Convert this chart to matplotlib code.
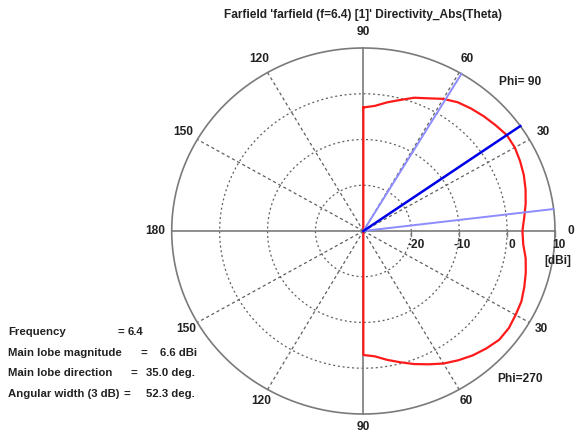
import numpy as np
import matplotlib
matplotlib.use("Agg")
import matplotlib.pyplot as plt

# Directivity cut (dBi) versus plot angle in degrees (0 = right, counter-clockwise)
theta_upper = [90, 85, 80, 75, 70, 65, 60, 55, 50, 45, 40, 35, 30, 25, 20, 15, 10, 5, 0]
db_upper = [-3.0, -2.55, -1.45, -0.35, 1.0, 2.0, 3.35, 4.35, 4.95, 5.5, 6.0, 6.55, 6.5,
            6.1, 5.65, 5.05, 4.4, 3.7, 3.2]
theta_lower = [-5, -10, -15, -20, -25, -30, -35, -40, -45, -50, -55, -60, -65, -70, -75,
               -80, -85, -90]
db_lower = [3.5, 4.4, 5.1, 5.75, 6.4, 6.7, 7.05, 7.0, 6.3, 5.5, 4.5, 3.45, 2.15, 0.95,
            -0.3, -1.4, -2.5, -2.9]

main_lobe_dir = 35.0
beam_edges = [59.2, 6.9]

r_min, r_max = -30, 10
ring_values = [-20, -10, 0]
ring_labels = ["-20", "-10", "0", "10"]
spoke_angles = [30, 60, 120, 150, -30, -60, -120, -150]
angle_pos_upper = [0, 30, 60, 90, 120, 150, 180]
angle_pos_lower = [-30, -60, -90, -120, -150]
angle_text_lower = ["30", "60", "90", "120", "150"]

title = "Farfield 'farfield (f=6.4) [1]' Directivity_Abs(Theta)"
info_labels = ["Frequency", "Main lobe magnitude", "Main lobe direction", "Angular width (3 dB)"]
info_values = ["6.4", "6.6 dBi", "35.0 deg.", "52.3 deg."]

W, H = 579, 432
fig = plt.figure(figsize=(W / 100, H / 100), dpi=100)
fig.patch.set_facecolor("white")

# Axes box: x spans 171.7..555 px, y spans 48..414 px
ax = fig.add_axes([171.7 / W, 18 / H, 383.3 / W, 366 / H])
R = r_max - r_min
ax.set_xlim(-R, R)
ax.set_ylim(-R, R)
ax.axis("off")

FONT = "Liberation Sans"
grey = "#7a7a7a"
dash = "#606060"


def pol(angle_deg, db):
    r = np.clip(np.asarray(db, float) - r_min, 0, None)
    a = np.deg2rad(np.asarray(angle_deg, float))
    return r * np.cos(a), r * np.sin(a)


# Dotted rings
t = np.linspace(0, 360, 721)
for v in ring_values:
    x, y = pol(t, np.full_like(t, v))
    ax.plot(x, y, color=dash, lw=0.9, ls=(0, (1.6, 2.2)), clip_on=False, zorder=1)

# Dashed spokes
for a in spoke_angles:
    x, y = pol([a, a], [r_min, r_max])
    ax.plot(x, y, color=dash, lw=0.9, ls=(0, (2.5, 2.2)), clip_on=False, zorder=1)

# Outer circle and main axes
x, y = pol(t, np.full_like(t, r_max))
ax.plot(x, y, color=grey, lw=1.2, clip_on=False, zorder=2)
for a in [0, 90, 180, 270]:
    x, y = pol([a, a], [r_min, r_max])
    ax.plot(x, y, color=grey, lw=1.2, clip_on=False, zorder=2)

# Small ticks on the radial axis
for v in ring_values + [r_max]:
    ax.plot([v - r_min] * 2, [0, -1.0], color=grey, lw=1.0, clip_on=False, zorder=2)

# Pattern curve (closed through the origin)
ang = theta_upper + theta_lower
val = db_upper + db_lower
x, y = pol(ang, val)
x = np.append(x, x[0])
y = np.append(y, y[0])
ax.plot(x, y, color="#ff1a1a", lw=1.6, clip_on=False, zorder=3)

# Beam-width and main lobe lines
for a in beam_edges:
    x, y = pol([a, a], [r_min, r_max])
    ax.plot(x, y, color="#8c8cff", lw=1.4, clip_on=False, zorder=4)
x, y = pol([main_lobe_dir] * 2, [r_min, r_max])
ax.plot(x, y, color="#0000e6", lw=1.8, clip_on=False, zorder=5)

FS = 8.6
tk = dict(fontfamily=FONT, fontweight="bold", fontsize=FS, color="#222222",
          ha="center", va="center")

# Angle labels
lab_r = 43.4
for a in angle_pos_upper:
    x, y = pol(a, lab_r + r_min)
    ax.text(float(x), float(y), str(a), **tk)
for a, s in zip(angle_pos_lower, angle_text_lower):
    x, y = pol(a, lab_r - 0.6 + r_min)
    ax.text(float(x), float(y), s, **tk)


def ftext(px, py, s, **kw):
    opts = dict(tk)
    opts.update(kw)
    fig.text(px / W, 1 - py / H, s, **opts)


# Radial scale labels
for px, s in zip([416, 462, 512, 558.5], ring_labels):
    ftext(px, 245, s)
ftext(558, 261, "[dBi]")

ftext(520, 82, "Phi= 90")
ftext(520, 379, "Phi=270")
ftext(362.5, 15, title)

# Info block
rows_y = [332, 352.5, 373, 394]
eq_x = [120.5, 144, 134, 126.5]
val_x = [128, 160, 146, 146]
for yy, lab, v, ex, vx in zip(rows_y, info_labels, info_values, eq_x, val_x):
    ftext(8, yy, lab, ha="left", fontsize=8.2)
    ftext(ex, yy, "=", fontsize=8.2)
    ftext(vx, yy, v, ha="left", fontsize=8.2)

fig.savefig("out.png", dpi=100, facecolor="white")
